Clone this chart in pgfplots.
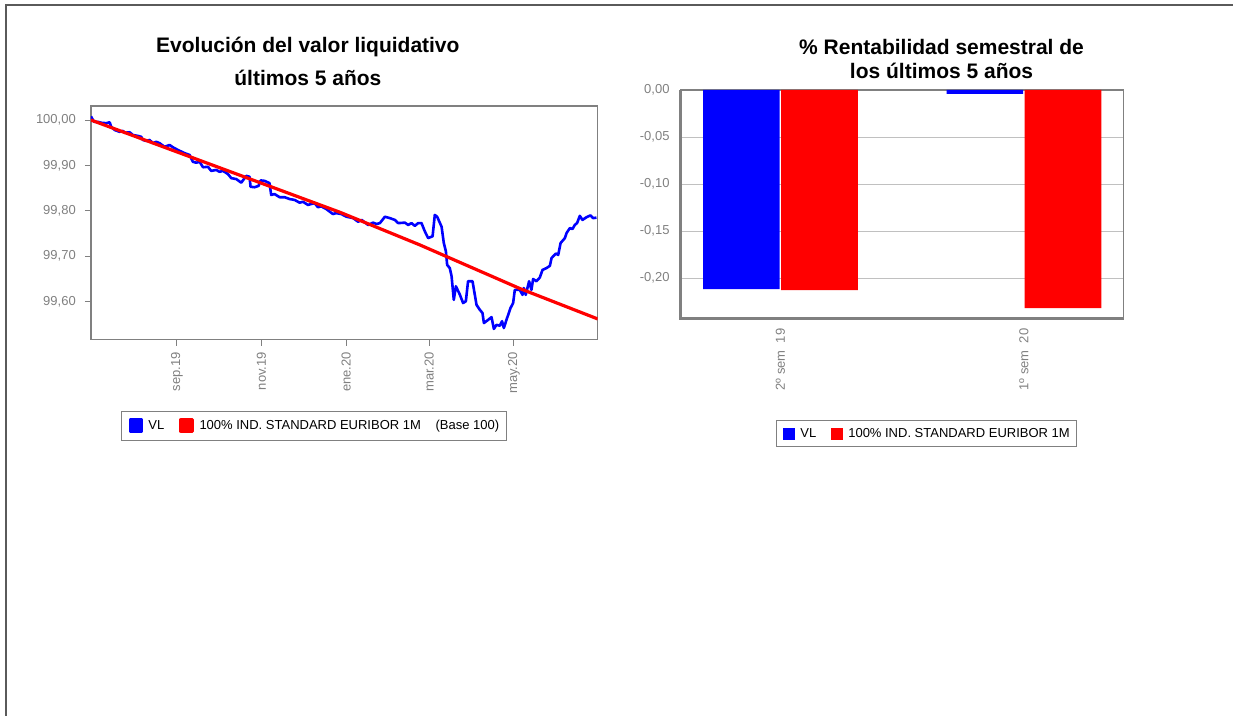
\documentclass[border=0pt]{standalone}
\usepackage{fontspec}
\setmainfont{Liberation Sans}
\usepackage{pgfplots}
\pgfplotsset{compat=1.18}
\definecolor{vlblue}{RGB}{0,0,255}
\definecolor{eured}{RGB}{255,0,0}
\definecolor{labgray}{RGB}{128,128,128}
\definecolor{framegray}{RGB}{128,128,128}
\definecolor{gridgray}{RGB}{192,192,192}
\definecolor{pagegray}{RGB}{90,90,90}

\pgfplotsset{
  sqlegend/.style={legend image code/.code={\fill[##1] (0pt,-5.85pt) rectangle (11.7pt,5.85pt);}},
  fundstyle/.style={
    scale only axis,
    axis line style={framegray, line width=1.3pt},
    tick label style={font=\fontsize{13}{13}\selectfont, text=labgray},
    /pgf/number format/.cd, fixed, fixed zerofill, precision=2, use comma, 1000 sep={}, assume math mode=true,
    /pgfplots/.cd,
    legend style={draw=framegray, line width=0.8pt, legend columns=-1,
      font=\fontsize{13}{13}\selectfont, inner xsep=7pt, inner ysep=7pt,
      nodes={inner sep=0pt},
      /tikz/every odd column/.append style={column sep=5.3pt},
      /tikz/every even column/.append style={column sep=15pt}},
  },
}

\begin{document}
\begin{tikzpicture}[x=1pt,y=1pt]
\path (0,0) rectangle (1234,716);
\draw[line width=1.2pt, pagegray] (6,0) -- (6,711) -- (1234,711);

% titles
\node[font=\fontsize{21}{21}\selectfont\bfseries] at (308,669) {Evolución del valor liquidativo};
\node[font=\fontsize{21}{21}\selectfont\bfseries] at (308,638) {últimos 5 años};
\node[font=\fontsize{21}{21}\selectfont\bfseries] at (942,669) {\% Rentabilidad semestral de};
\node[font=\fontsize{21}{21}\selectfont\bfseries] at (942,645) {los últimos 5 años};

% net asset value vs. benchmark (base 100), days since 1 Jul 2019
\begin{axis}[fundstyle,
  at={(91pt,376pt)}, anchor=south west,
  width=507pt, height=234pt,
  xmin=0, xmax=365.5, ymin=99.516, ymax=100.031,
  tick pos=left, tick align=outside, major tick length=6pt,
  tick style={framegray, line width=1pt},
  xtick={62,123,184,244,305},
  xticklabels={sep.19,nov.19,ene.20,mar.20,may.20},
  xticklabel style={rotate=90, anchor=east, inner sep=0pt, xshift=-6pt},
  ytick={99.6,99.7,99.8,99.9,100},
  yticklabel style={inner sep=0pt, xshift=-9pt},
  legend style={at={(0.4402,-0.3667)}, anchor=center},
]
\addplot[vlblue, line width=2.6pt, line join=round, sqlegend] coordinates {
(0,100.008) (2.2,99.996) (5.0,99.996) (7.4,99.994) (11.0,99.993) (13.5,99.995) (14.6,99.985) (17.1,99.978) (20.7,99.974) (23.1,99.976) (24.3,99.972) (27.9,99.973) (30.3,99.967) (33.9,99.965) (36.3,99.963) (37.5,99.956) (39.9,99.954) (42.3,99.956) (44.7,99.949) (47.1,99.952) (49.5,99.949) (53.1,99.941) (56.7,99.945) (59.1,99.940) (62.7,99.934) (67.6,99.927) (71.2,99.923) (73.5,99.908) (75.9,99.906) (78.4,99.908) (80.8,99.896) (84.4,99.897) (86.7,99.888) (90.3,99.890) (92.8,99.886) (95.2,99.888) (98.8,99.881) (101.2,99.872) (104.8,99.870) (108.4,99.862) (110.8,99.872) (112.0,99.877) (114.4,99.875) (115.1,99.853) (118.0,99.852) (120.9,99.855) (122.4,99.867) (125.2,99.866) (128.8,99.861) (130.0,99.835) (132.4,99.837) (136.1,99.830) (139.7,99.830) (143.3,99.826) (146.9,99.824) (150.5,99.818) (152.9,99.820) (156.5,99.813) (158.8,99.815) (161.3,99.817) (163.7,99.808) (166.0,99.810) (169.7,99.804) (174.5,99.793) (176.9,99.795) (180.5,99.793) (184.4,99.787) (189.1,99.784) (192.7,99.776) (195.2,99.780) (199.9,99.769) (203.5,99.774) (206.0,99.771) (208.4,99.773) (212.0,99.787) (215.6,99.784) (219.2,99.780) (221.6,99.773) (226.4,99.774) (228.8,99.769) (231.2,99.773) (233.6,99.767) (236.0,99.773) (238.4,99.773) (240.8,99.755) (243.2,99.740) (246.4,99.744) (248.0,99.791) (249.7,99.787) (252.9,99.765) (254.5,99.729) (256.0,99.711) (256.9,99.681) (258.8,99.674) (260.1,99.656) (261.7,99.604) (263.2,99.634) (266.0,99.616) (268.4,99.597) (270.4,99.601) (272.0,99.645) (275.2,99.645) (278.1,99.593) (280.5,99.582) (282.4,99.575) (283.4,99.553) (286.5,99.560) (288.9,99.566) (290.6,99.540) (292.5,99.549) (294.9,99.547) (296.5,99.557) (297.8,99.542) (299.7,99.560) (302.6,99.586) (304.5,99.597) (305.7,99.626) (309.3,99.626) (311.3,99.615) (312.2,99.630) (313.6,99.615) (316.0,99.645) (317.7,99.626) (318.9,99.650) (321.3,99.645) (323.7,99.653) (325.7,99.670) (328.6,99.674) (331.0,99.679) (332.2,99.696) (335.3,99.706) (337.0,99.703) (338.7,99.729) (341.8,99.740) (343.0,99.751) (345.4,99.762) (347.3,99.760) (349.0,99.769) (350.6,99.773) (352.6,99.789) (354.5,99.780) (357.4,99.786) (360.3,99.790) (362.2,99.784) (364.6,99.785)
};
\addlegendentry{VL}
\addplot[eured, line width=3.2pt, line join=round, sqlegend] coordinates {
(0,100.000) (78.6,99.911) (179.5,99.797) (237.2,99.725) (309.3,99.629) (365.5,99.562)
};
\addlegendentry{100\% IND. STANDARD EURIBOR 1M\hspace{14.7pt}(Base 100)}
\end{axis}

% half-year returns (%)
\begin{axis}[fundstyle,
  at={(681pt,397.3pt)}, anchor=south west,
  width=443.3pt, height=228.7pt,
  xmin=-0.41, xmax=1.41, ymin=-0.243, ymax=0,
  ybar=1.5pt, bar width=76.7pt,
  major tick length=0pt,
  ymajorgrids, grid style={gridgray, line width=0.9pt},
  xtick={0,1},
  xticklabels={2º sem\ \ 19, 1º sem\ \ 20},
  xticklabel style={rotate=90, anchor=east, inner sep=0pt, xshift=-10pt},
  ytick={-0.2,-0.15,-0.1,-0.05,0},
  yticklabel style={inner sep=0pt, xshift=-11pt},
  legend style={at={(0.555,-0.5037)}, anchor=center},
  after end axis/.code={
    \draw[framegray, line width=2.4pt] (rel axis cs:0,1) -- (rel axis cs:0,0) -- (rel axis cs:1,0);
  },
]
\addplot[fill=vlblue, draw=none, sqlegend] coordinates {(0,-0.2117) (1,-0.0043)};
\addlegendentry{VL}
\addplot[fill=eured, draw=none, sqlegend] coordinates {(0,-0.2128) (1,-0.2319)};
\addlegendentry{100\% IND. STANDARD EURIBOR 1M}
\end{axis}
\end{tikzpicture}
\end{document}
